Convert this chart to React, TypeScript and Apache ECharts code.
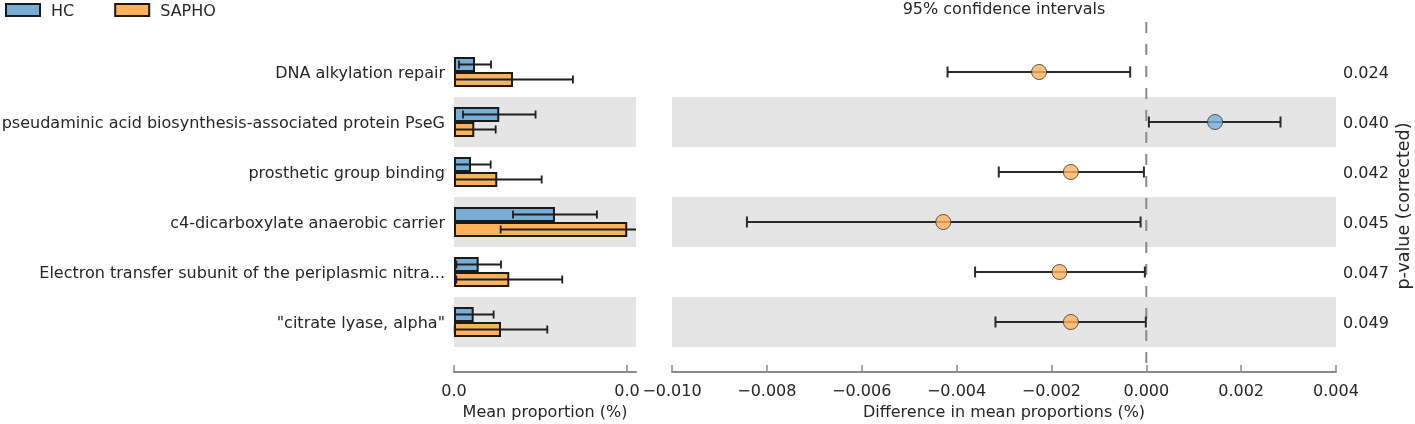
import React, { useEffect, useRef } from 'react';
import * as echarts from 'echarts';

const categories = [
  'DNA alkylation repair',
  'pseudaminic acid biosynthesis-associated protein PseG',
  'prosthetic group binding',
  'c4-dicarboxylate anaerobic carrier',
  'Electron transfer subunit of the periplasmic nitra...',
  '"citrate lyase, alpha"',
];
const groups = ['HC', 'SAPHO'];
const hcMean = [0.00486, 0.01047, 0.00393, 0.02335, 0.00571, 0.00455];
const hcSd = [0.0037, 0.0084, 0.00455, 0.00971, 0.00516, 0.00462];
const saphoMean = [0.01364, 0.00469, 0.01001, 0.04007, 0.01279, 0.01087];
const saphoSd = [0.01387, 0.00495, 0.01027, 0.02928, 0.01225, 0.01071];
const diffMean = [-0.00226, 0.00145, -0.00159, -0.00428, -0.00183, -0.00159];
const ciLow = [-0.00419, 0.000055, -0.00311, -0.00842, -0.00361, -0.00318];
const ciHigh = [-0.00034, 0.00283, -0.00005, -0.00012, -0.00003, -0.00001];
const pValues = ['0.024', '0.040', '0.042', '0.045', '0.047', '0.049'];
const meanTicks = [0, 0.04];
const meanMax = 0.0421;
const diffMin = -0.01;
const diffMax = 0.004;
const diffStep = 0.002;

const HC_COLOR = '#78aed6';
const SAPHO_COLOR = '#ffb15c';
const BAND = '#e5e5e5';
const FONT = 'DejaVu Sans';
const TEXT = '#262626';
const AXIS = '#8a8a8a';
const BAR_W = 15;

export default function App() {
  const ref = useRef<HTMLDivElement>(null);
  useEffect(() => {
    const chart = echarts.init(ref.current!, null, { renderer: 'svg' });

    const meanErr = (offset: number) => (params: any, api: any) => {
      const mean = api.value(0);
      const idx = api.value(1);
      const sd = api.value(2);
      const cs = params.coordSys;
      const y = api.coord([mean, idx])[1] + offset;
      const x1 = api.coord([mean - sd, idx])[0];
      const x2 = api.coord([mean + sd, idx])[0];
      const lo = Math.max(x1, cs.x);
      const hi = Math.min(x2, cs.x + cs.width);
      const st = { stroke: '#1e1e1e', lineWidth: 1.8 };
      const ch: any[] = [{ type: 'line', shape: { x1: lo, y1: y, x2: hi, y2: y }, style: st }];
      if (x1 >= cs.x) ch.push({ type: 'line', shape: { x1: x1, y1: y - 4, x2: x1, y2: y + 4 }, style: st });
      if (x2 <= cs.x + cs.width) ch.push({ type: 'line', shape: { x1: x2, y1: y - 4, x2: x2, y2: y + 4 }, style: st });
      return { type: 'group', children: ch };
    };

    const ciErr = (params: any, api: any) => {
      const lo = api.value(0);
      const hi = api.value(1);
      const idx = api.value(2);
      const a = api.coord([lo, idx]);
      const b = api.coord([hi, idx]);
      const st = { stroke: '#2a2a2a', lineWidth: 2 };
      return {
        type: 'group',
        children: [
          { type: 'line', shape: { x1: a[0], y1: a[1], x2: b[0], y2: b[1] }, style: st },
          { type: 'line', shape: { x1: a[0], y1: a[1] - 5.5, x2: a[0], y2: a[1] + 5.5 }, style: st },
          { type: 'line', shape: { x1: b[0], y1: b[1] - 5.5, x2: b[0], y2: b[1] + 5.5 }, style: st },
        ],
      };
    };

    const zeroLine = (params: any, api: any) => {
      const cs = params.coordSys;
      const x = api.coord([api.value(0), 0])[0];
      return {
        type: 'line',
        shape: { x1: x, y1: cs.y - 25, x2: x, y2: cs.y + cs.height + 25 },
        style: { stroke: '#8a8a8a', lineWidth: 2, lineDash: [11, 11] },
      };
    };

    const fmtDiff = (v: number) => {
      if (Math.abs(v) < 1e-12) return '0.000';
      return (v < 0 ? '\u2212' : '') + Math.abs(v).toFixed(3);
    };

    const baseText = { fontFamily: FONT, fontSize: 16, color: TEXT };

    const option: any = {
      animation: false,
      textStyle: { fontFamily: FONT },
      legend: {
        data: groups,
        left: 5,
        top: 2,
        padding: 0,
        itemWidth: 34,
        itemHeight: 12,
        itemGap: 40,
        icon: 'rect',
        textStyle: { ...baseText, padding: [0, 0, 0, 6] },
      },
      graphic: [
        {
          type: 'text',
          x: 1004,
          y: 0,
          style: { text: '95% confidence intervals', fontFamily: FONT, fontSize: 16, fill: TEXT, align: 'center', verticalAlign: 'top' },
        },
      ],
      grid: [
        { left: 454, top: 47, width: 182, height: 300, outerBoundsMode: 'none', containLabel: false },
        { left: 672, top: 47, width: 664, height: 300, outerBoundsMode: 'none', containLabel: false },
      ],
      xAxis: [
        {
          type: 'value',
          gridIndex: 0,
          min: 0,
          max: meanMax,
          offset: 25,
          splitLine: { show: false },
          axisLine: { show: true, lineStyle: { color: AXIS, width: 2 } },
          axisTick: { show: true, inside: true, length: 7, lineStyle: { color: AXIS, width: 1.5 }, customValues: meanTicks },
          axisLabel: { ...baseText, margin: 10, customValues: meanTicks, formatter: (v: number) => v.toFixed(1) },
          name: 'Mean proportion (%)',
          nameLocation: 'middle',
          nameGap: 31,
          nameTextStyle: baseText,
        },
        {
          type: 'value',
          gridIndex: 1,
          min: diffMin,
          max: diffMax,
          interval: diffStep,
          offset: 25,
          splitLine: { show: false },
          axisLine: { show: true, onZero: false, lineStyle: { color: AXIS, width: 2 } },
          axisTick: { show: true, inside: true, length: 7, lineStyle: { color: AXIS, width: 1.5 } },
          axisLabel: { ...baseText, margin: 10, formatter: fmtDiff },
          name: 'Difference in mean proportions (%)',
          nameLocation: 'middle',
          nameGap: 31,
          nameTextStyle: baseText,
        },
      ],
      yAxis: [
        {
          type: 'category',
          gridIndex: 0,
          data: categories,
          inverse: true,
          axisLine: { show: false },
          axisTick: { show: false },
          axisLabel: { ...baseText, margin: 9 },
          splitArea: { show: true, areaStyle: { color: ['rgba(0,0,0,0)', BAND] } },
        },
        {
          type: 'category',
          gridIndex: 1,
          data: categories,
          inverse: true,
          axisLine: { show: false },
          axisTick: { show: false },
          axisLabel: { show: false },
          splitArea: { show: true, areaStyle: { color: ['rgba(0,0,0,0)', BAND] } },
        },
        {
          type: 'category',
          gridIndex: 1,
          position: 'right',
          data: pValues,
          inverse: true,
          axisLine: { show: false },
          axisTick: { show: false },
          axisLabel: { ...baseText, margin: 7 },
          name: 'p-value (corrected)',
          nameLocation: 'middle',
          nameRotate: 90,
          nameGap: 58,
          nameTextStyle: { ...baseText, fontSize: 17.5, padding: [0, 18, 0, 0] },
        },
      ],
      series: [
        {
          name: 'HC',
          type: 'bar',
          xAxisIndex: 0,
          yAxisIndex: 0,
          data: hcMean,
          barWidth: BAR_W,
          barGap: '0%',
          itemStyle: { color: HC_COLOR, borderColor: '#1a1a1a', borderWidth: 2 },
          z: 2,
        },
        {
          name: 'SAPHO',
          type: 'bar',
          xAxisIndex: 0,
          yAxisIndex: 0,
          data: saphoMean,
          barWidth: BAR_W,
          barGap: '0%',
          itemStyle: { color: SAPHO_COLOR, borderColor: '#1a1a1a', borderWidth: 2 },
          z: 2,
        },
        {
          name: 'HC err',
          type: 'custom',
          xAxisIndex: 0,
          yAxisIndex: 0,
          clip: false,
          z: 3,
          silent: true,
          encode: { x: 0, y: 1 },
          data: hcMean.map((m, i) => [m, i, hcSd[i]]),
          renderItem: meanErr(-BAR_W / 2),
        },
        {
          name: 'SAPHO err',
          type: 'custom',
          xAxisIndex: 0,
          yAxisIndex: 0,
          clip: false,
          z: 3,
          silent: true,
          encode: { x: 0, y: 1 },
          data: saphoMean.map((m, i) => [m, i, saphoSd[i]]),
          renderItem: meanErr(BAR_W / 2),
        },
        {
          name: 'zero',
          type: 'custom',
          xAxisIndex: 1,
          yAxisIndex: 1,
          clip: false,
          z: 1,
          silent: true,
          encode: { x: 0, y: 1 },
          data: [[0, 0]],
          renderItem: zeroLine,
        },
        {
          name: 'CI',
          type: 'custom',
          xAxisIndex: 1,
          yAxisIndex: 1,
          clip: false,
          z: 3,
          silent: true,
          encode: { x: [0, 1], y: 2 },
          data: ciLow.map((l, i) => [l, ciHigh[i], i]),
          renderItem: ciErr,
        },
        {
          name: 'Difference',
          type: 'scatter',
          xAxisIndex: 1,
          yAxisIndex: 1,
          symbol: 'circle',
          symbolSize: 15,
          z: 4,
          data: diffMean.map((d, i) => ({
            value: [d, i],
            itemStyle: { color: d < 0 ? SAPHO_COLOR : HC_COLOR, borderColor: '#333', borderWidth: 1 },
          })),
        },
      ],
    };
    chart.setOption(option);
    return () => chart.dispose();
  }, []);
  return <div ref={ref} style={{ position: 'fixed', left: 0, top: 0, width: 1415, height: 424 }} />;
}
